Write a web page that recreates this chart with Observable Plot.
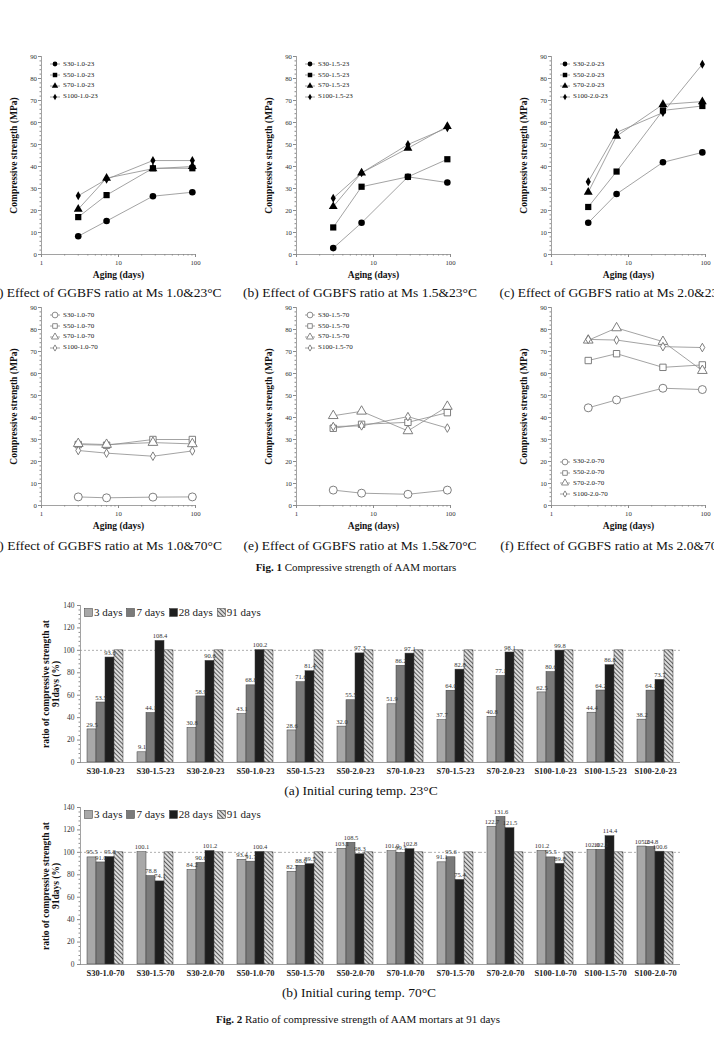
<!DOCTYPE html>
<html>
<head>
<meta charset="utf-8">
<script src="https://cdn.jsdelivr.net/npm/d3@7"></script>
<script src="https://cdn.jsdelivr.net/npm/@observablehq/plot@0.6"></script>
<style>
  html, body { margin: 0; padding: 0; background: #fff; }
  #page { position: relative; width: 714px; height: 1037px; overflow: hidden;
          font-family: "Liberation Serif", "Times New Roman", serif; color: #111; }
  #page svg text { font-family: "Liberation Serif", "Times New Roman", serif; }
  .cap { position: absolute; white-space: nowrap; transform: translate(-50%, -50%); }
  .panelcap { font-size: 13.5px; }
  .figcap { font-size: 11px; }
  .legend { position: absolute; font-size: 7px; color: #222; line-height: 1;
            font-family: "Liberation Serif", "Times New Roman", serif; }
  .legend .row { display: flex; align-items: center; height: 10.7px; }
  .barlegend { position: absolute; display: flex; align-items: center; font-size: 11px; color: #222; }
</style>
</head>
<body>
<div id="page"></div>
<script>
// ---------- Fig. 1: compressive strength (MPa) vs. aging ----------
const days = [3, 7, 28, 91];
const mixes = ["S30", "S50", "S70", "S100"];

// one row per GGBFS ratio (S30, S50, S70, S100), columns = days
const strength_10_23 = [[8.3, 15.2, 26.5, 28.3], [17.0, 27.0, 39.2, 39.2], [20.6, 34.7, 39.0, 40.0], [26.7, 34.2, 42.7, 42.7]];
const strength_15_23 = [[2.9, 14.4, 35.3, 32.7], [12.3, 30.8, 35.3, 43.3], [21.8, 37.1, 48.3, 58.2], [25.6, 37.1, 50.0, 57.6]];
const strength_20_23 = [[14.4, 27.5, 41.9, 46.4], [21.6, 37.7, 65.5, 67.5], [28.3, 53.8, 68.2, 69.5], [33.1, 55.5, 64.5, 86.5]];
const strength_10_70 = [[3.9, 3.5, 3.8, 3.9], [27.7, 27.4, 30.0, 30.0], [28.1, 27.7, 28.6, 28.0], [25.0, 23.8, 22.4, 24.8]];
const strength_15_70 = [[7.0, 5.6, 5.1, 7.0], [35.1, 36.9, 37.8, 42.2], [40.8, 42.8, 33.9, 45.0], [35.9, 36.2, 40.4, 35.2]];
const strength_20_70 = [[44.4, 48.0, 53.3, 52.7], [65.9, 69.0, 62.8, 63.9], [75.1, 80.7, 74.5, 61.3], [75.5, 75.2, 72.2, 71.8]];

const panelCaptions = [
  "(a) Effect of GGBFS ratio at Ms 1.0&23°C",
  "(b) Effect of GGBFS ratio at Ms 1.5&23°C",
  "(c) Effect of GGBFS ratio at Ms 2.0&23°C",
  "(d) Effect of GGBFS ratio at Ms 1.0&70°C",
  "(e) Effect of GGBFS ratio at Ms 1.5&70°C",
  "(f) Effect of GGBFS ratio at Ms 2.0&70°C"
];

// ---------- Fig. 2: ratio of strength to the 91-day strength (%) ----------
const periods = ["3 days", "7 days", "28 days", "91 days"];

const groups23 = ["S30-1.0-23", "S30-1.5-23", "S30-2.0-23", "S50-1.0-23", "S50-1.5-23", "S50-2.0-23",
                  "S70-1.0-23", "S70-1.5-23", "S70-2.0-23", "S100-1.0-23", "S100-1.5-23", "S100-2.0-23"];
const ratio3d_23  = [29.5, 9.1, 30.8, 43.1, 28.6, 32.0, 51.9, 37.7, 40.8, 62.5, 44.4, 38.2];
const ratio7d_23  = [53.5, 44.1, 58.9, 68.8, 71.6, 55.5, 86.2, 64.0, 77.1, 80.6, 64.2, 64.1];
const ratio28d_23 = [93.6, 108.4, 90.6, 100.2, 81.4, 97.3, 97.1, 82.8, 98.1, 99.8, 86.8, 73.7];
const ratio91d_23 = [100, 100, 100, 100, 100, 100, 100, 100, 100, 100, 100, 100];

const groups70 = ["S30-1.0-70", "S30-1.5-70", "S30-2.0-70", "S50-1.0-70", "S50-1.5-70", "S50-2.0-70",
                  "S70-1.0-70", "S70-1.5-70", "S70-2.0-70", "S100-1.0-70", "S100-1.5-70", "S100-2.0-70"];
const ratio3d_70  = [95.5, 100.1, 84.2, 93.4, 82.7, 103.1, 101.0, 91.1, 122.7, 101.2, 102.0, 105.2];
const ratio7d_70  = [91.0, 78.8, 90.6, 91.7, 88.0, 108.5, 99.5, 95.6, 131.6, 95.5, 102.2, 104.8];
const ratio28d_70 = [95.8, 74.1, 101.2, 100.4, 89.5, 98.3, 102.8, 75.4, 121.5, 89.8, 114.4, 100.6];
const ratio91d_70 = [100, 100, 100, 100, 100, 100, 100, 100, 100, 100, 100, 100];

// ---------- styling ----------
const serif = '"Liberation Serif", "Times New Roman", serif';
const axisGray = "#8a8a8a";
const lineGray = "#8c8c8c";
const markerShapes = ["circle", "square", "triangle", "diamond"];
const d3Shapes = [d3.symbolCircle, d3.symbolSquare, d3.symbolTriangle, d3.symbolDiamond];
const solidR = [3.3, 3.5, 3.3, 2.7];
const openR = [4.0, 3.6, 3.6, 2.6];
const barFills = ["#a8a8a8", "#7a7a7a", "#1e1e1e", "url(#hatch)"];

const page = document.getElementById("page");

function addCaption(html, cls, cx, cy) {
  const d = document.createElement("div");
  d.className = "cap " + cls;
  d.innerHTML = html;
  d.style.left = cx + "px";
  d.style.top = cy + "px";
  page.append(d);
}

// plot-area geometry for the six strength panels
const colAxisX = [41, 296, 551];
const rowTopY = [56, 307];
const PW = 154, PH = 198, ML = 41, MR = 16, MT = 16, MB = 32;

function strengthPanel(values, tag, col, row, open, legendBottom) {
  const names = mixes.map(m => `${m}-${tag}`);
  const rows = [];
  values.forEach((vals, i) => vals.forEach((v, j) => rows.push({series: names[i], mix: i, day: days[j], value: v})));

  const dots = mixes.map((m, i) => Plot.dot(rows.filter(d => d.mix === i), {
    x: "day", y: "value", symbol: markerShapes[i],
    r: open ? openR[i] : solidR[i],
    fill: open ? "white" : "black",
    stroke: open ? "#707070" : "none",
    strokeWidth: 0.9
  }));

  const minorX = [2, 3, 4, 5, 6, 7, 8, 9, 20, 30, 40, 50, 60, 70, 80, 90];
  const minorY = d3.range(0, 91, 2).filter(v => v % 10 !== 0);

  const svg = Plot.plot({
    width: ML + PW + MR, height: MT + PH + MB,
    marginLeft: ML, marginRight: MR, marginTop: MT, marginBottom: MB,
    style: {fontFamily: serif, background: "transparent", overflow: "visible"},
    x: {type: "log", domain: [1, 100]},
    y: {domain: [0, 90]},
    marks: [
      Plot.axisY({ticks: d3.range(0, 91, 10), tickSize: 3, tickPadding: 1.5, fontSize: 6.8,
                  stroke: axisGray, fill: "#333", label: null}),
      Plot.axisY({ticks: minorY, tickSize: 1.5, stroke: axisGray, fill: "none", label: null}),
      Plot.axisX({ticks: [1, 10, 100], tickFormat: d => String(d), tickSize: 3, tickPadding: 2.5,
                  fontSize: 6.8, stroke: axisGray, fill: "#333", label: null}),
      Plot.axisX({ticks: minorX, tickSize: 1.5, stroke: axisGray, fill: "none", label: null}),
      Plot.ruleX([1], {stroke: axisGray, strokeWidth: 0.8}),
      Plot.ruleY([0], {stroke: axisGray, strokeWidth: 0.8}),
      Plot.text(["Aging (days)"], {frameAnchor: "bottom", dy: 23, fontSize: 9.5, fontWeight: "bold", fill: "#111"}),
      Plot.text(["Compressive strength (MPa)"], {frameAnchor: "left", textAnchor: "middle", rotate: -90, dx: -28,
                                                  fontSize: 9.5, fontWeight: "bold", fill: "#111"}),
      Plot.line(rows, {x: "day", y: "value", z: "series", stroke: lineGray, strokeWidth: 0.8}),
      ...dots
    ]
  });
  svg.style.position = "absolute";
  svg.style.left = (colAxisX[col] - ML) + "px";
  svg.style.top = (rowTopY[row] - MT) + "px";
  page.append(svg);

  // legend inside the plot area
  const lg = document.createElement("div");
  lg.className = "legend";
  lg.style.left = (colAxisX[col] + 9) + "px";
  const firstRowY = legendBottom ? rowTopY[row] + 155 : rowTopY[row] + 8.5;
  lg.style.top = (firstRowY - 5.35) + "px";
  names.forEach((n, i) => {
    const r = d3.create("div").attr("class", "row");
    const s = r.append("svg").attr("width", 12).attr("height", 10).style("margin-right", "1px");
    s.append("line").attr("x1", 0).attr("x2", 10).attr("y1", 5).attr("y2", 5)
      .attr("stroke", lineGray).attr("stroke-width", 0.8);
    const rr = (open ? openR[i] : solidR[i]) * 0.72;
    s.append("path").attr("transform", "translate(5,5)")
      .attr("d", d3.symbol(d3Shapes[i], Math.PI * rr * rr)())
      .attr("fill", open ? "white" : "black")
      .attr("stroke", open ? "#707070" : "none").attr("stroke-width", 0.8);
    r.append("span").text(n);
    lg.append(r.node());
  });
  page.append(lg);
}

strengthPanel(strength_10_23, "1.0-23", 0, 0, false, false);
strengthPanel(strength_15_23, "1.5-23", 1, 0, false, false);
strengthPanel(strength_20_23, "2.0-23", 2, 0, false, false);
strengthPanel(strength_10_70, "1.0-70", 0, 1, true, false);
strengthPanel(strength_15_70, "1.5-70", 1, 1, true, false);
strengthPanel(strength_20_70, "2.0-70", 2, 1, true, true);

const capCenters = [105, 360, 616];
panelCaptions.forEach((t, i) => addCaption(t, "panelcap", capCenters[i % 3], i < 3 ? 293 : 546));
addCaption("<b>Fig. 1</b> Compressive strength of AAM mortars", "figcap", 356, 567);

// ---------- bar charts ----------
function ratioChart(groups, r3, r7, r28, r91, top, hatchId) {
  const series = [r3, r7, r28, r91];
  const rows = [];
  groups.forEach((g, i) => series.forEach((arr, j) => rows.push({group: g, period: periods[j], value: arr[i]})));

  const svg = Plot.plot({
    width: 690, height: 186, marginLeft: 80, marginRight: 10, marginTop: 7, marginBottom: 22,
    style: {fontFamily: serif, background: "transparent", overflow: "visible"},
    fx: {domain: groups, padding: 0, label: null},
    x: {domain: periods, paddingInner: 0, paddingOuter: 0.7, axis: null},
    y: {domain: [0, 140]},
    color: {domain: periods, range: barFills.map(f => f.replace("hatch", hatchId))},
    marks: [
      Plot.ruleY([100], {stroke: "#9a9a9a", strokeWidth: 0.8, strokeDasharray: "2,2"}),
      Plot.barY(rows, {fx: "group", x: "period", y: "value", fill: "period", stroke: "#3a3a3a", strokeWidth: 0.5}),
      Plot.text(rows.filter(d => d.period !== "91 days"), {
        fx: "group", x: "period", y: "value", text: d => d.value.toFixed(1),
        dy: -5, fontSize: 6.5, fill: "#333"
      }),
      Plot.ruleY([0], {stroke: axisGray, strokeWidth: 0.8}),
      Plot.frame({anchor: "left", facetAnchor: "left", stroke: axisGray, strokeWidth: 0.8}),
      Plot.axisY({ticks: d3.range(0, 141, 20), tickSize: 3, tickPadding: 3, fontSize: 7.5,
                  stroke: axisGray, fill: "#333", label: null}),
      Plot.axisY({ticks: d3.range(0, 141, 4).filter(v => v % 20 !== 0), tickSize: 1.5,
                  stroke: axisGray, fill: "none", label: null}),
      Plot.axisFx({anchor: "bottom", tickSize: 0, tickPadding: 5, fontSize: 8.5, fontWeight: "bold",
                   fill: "#222", label: null}),
      Plot.text(["ratio of compressive strength at\n91days (%)"], {
        frameAnchor: "left", facetAnchor: "left", textAnchor: "middle", rotate: -90, dx: -30,
        fontSize: 9.5, fontWeight: "bold", lineHeight: 1.05, fill: "#111"
      })
    ]
  });

  // diagonal hatching used by the 91-day bars
  const defs = d3.select(svg).insert("defs", ":first-child");
  const pat = defs.append("pattern").attr("id", hatchId).attr("patternUnits", "userSpaceOnUse")
    .attr("width", 3).attr("height", 3).attr("patternTransform", "rotate(-45)");
  pat.append("rect").attr("width", 3).attr("height", 3).attr("fill", "#e4e4e4");
  pat.append("line").attr("x1", 1.5).attr("x2", 1.5).attr("y1", 0).attr("y2", 3)
    .attr("stroke", "#5a5a5a").attr("stroke-width", 1.1);

  svg.style.position = "absolute";
  svg.style.left = "0px";
  svg.style.top = top + "px";
  page.append(svg);

  // legend inside the plot area
  const lg = document.createElement("div");
  lg.className = "barlegend";
  lg.style.left = "84px";
  lg.style.top = (top + 7) + "px";
  lg.style.height = "14px";
  periods.forEach((p, j) => {
    const sw = document.createElementNS("http://www.w3.org/2000/svg", "svg");
    sw.setAttribute("width", 9); sw.setAttribute("height", 9);
    sw.style.margin = j === 0 ? "0 1px 0 0" : "0 1px 0 4px";
    const rc = document.createElementNS("http://www.w3.org/2000/svg", "rect");
    rc.setAttribute("x", 0.5); rc.setAttribute("y", 0.5); rc.setAttribute("width", 8); rc.setAttribute("height", 8);
    rc.setAttribute("fill", barFills[j].replace("hatch", hatchId));
    rc.setAttribute("stroke", "#3a3a3a"); rc.setAttribute("stroke-width", 0.5);
    sw.append(rc);
    lg.append(sw);
    const sp = document.createElement("span");
    sp.textContent = p;
    lg.append(sp);
  });
  page.append(lg);
}

ratioChart(groups23, ratio3d_23, ratio7d_23, ratio28d_23, ratio91d_23, 598, "hatch23");
addCaption("(a) Initial curing temp. 23°C", "panelcap", 361, 791);
ratioChart(groups70, ratio3d_70, ratio7d_70, ratio28d_70, ratio91d_70, 800, "hatch70");
addCaption("(b) Initial curing temp. 70°C", "panelcap", 359, 993);
addCaption("<b>Fig. 2</b> Ratio of compressive strength of AAM mortars at 91 days", "figcap", 358, 1019);
</script>
</body>
</html>
